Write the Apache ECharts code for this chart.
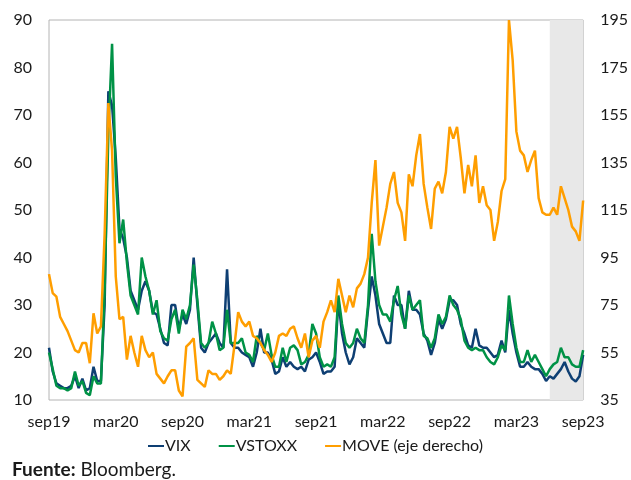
<!DOCTYPE html>
<html>
<head>
<meta charset="utf-8">
<script src="https://cdn.jsdelivr.net/npm/echarts@6/dist/echarts.min.js"></script>
<style>
  html, body { margin: 0; padding: 0; background: #fff; }
  #chart { width: 631px; height: 480px; }
</style>
</head>
<body>
<div id="chart"></div>
<script>
// Sampling dates: the 1st, 11th and 21st of each month, Sep 2019 - Sep 2023
const dates = [];
for (let y = 2019, m = 9; y < 2023 || (y === 2023 && m <= 9); m++) {
  if (m > 12) { m = 1; y++; }
  for (const d of [1, 11, 21]) {
    if (y === 2023 && m === 9 && d > 1) break;
    dates.push(y + '-' + String(m).padStart(2, '0') + '-' + String(d).padStart(2, '0'));
  }
}

// Axis tick labels (every six months)
const xTickLabels = ['sep19', 'mar20', 'sep20', 'mar21', 'sep21', 'mar22', 'sep22', 'mar23', 'sep23'];
const leftTicks = [10, 20, 30, 40, 50, 60, 70, 80, 90];
const rightTicks = [35, 55, 75, 95, 115, 135, 155, 175, 195];

// Shaded period
const shadedFrom = '2023-06-01';
const shadedTo = '2023-09-01';

// VIX
const vix = [
  21, 16, 13.5, 13, 12.5, 12.5, 13, 15, 12.5, 14.5, 12, 12.5, 17, 14, 14, 30, 75, 72, 61, 46,
  44, 40, 33, 31, 29, 33, 35, 33, 28.5, 28, 25, 22, 21.5, 30, 30, 25, 28, 26, 29, 40,
  30, 21, 20, 22, 23, 24, 22, 21, 37.5, 22, 21, 21, 20, 19.5, 19, 17, 20, 25, 20, 20,
  18.5, 15.5, 16, 19, 17, 18, 17, 16.5, 17, 16, 18.5, 19, 20, 18, 15.5, 16, 16, 17, 31, 24,
  20, 17.5, 19, 23, 22, 21, 29, 36, 32, 26, 24, 22, 22, 32, 30, 30, 25, 33, 29, 29,
  28, 24, 22.5, 19.5, 22, 27, 25, 27, 31, 31, 30, 26, 24, 21.5, 21, 25, 21.5, 21, 21, 20,
  19, 19.5, 22.5, 20, 29, 24, 20, 17, 17, 18, 17, 16.5, 16.5, 15.5, 14, 15, 14.5, 15.5, 16.5, 18,
  16, 14.5, 13.9, 15, 19.5
];

// VSTOXX
const vstoxx = [
  20, 16.5, 13, 12.5, 12.5, 12, 12.5, 16, 13, 14, 11.5, 11, 15, 13.5, 13.5, 33, 66, 85, 57, 43,
  48, 39, 32, 30, 28, 40, 36, 33, 28, 31, 24.5, 23, 22.5, 27, 29, 24, 29, 27, 30, 38.5,
  31, 22, 21, 22, 26.5, 24, 20.5, 21, 29, 22, 22, 22, 23, 20, 19.5, 18, 23.5, 22, 20.5, 24,
  19.5, 17, 17, 21, 18, 21, 21.5, 20.5, 17.5, 18, 19.5, 26, 24, 19, 17, 17.5, 17, 19, 32, 26,
  22, 21, 22, 25, 23, 22, 30, 45, 35, 30, 28, 28, 26.5, 31, 34, 28, 25, 32, 29, 30,
  31, 23.5, 23, 21, 23, 28, 26, 27.5, 32, 30, 29, 27, 22.5, 21, 20.5, 21, 20.5, 20.5, 19, 18,
  17.5, 19, 21.5, 20.5, 32, 26, 21, 18, 18, 20.5, 18, 19.5, 18, 16.5, 15, 16.5, 17.5, 18, 21, 19,
  19, 17.5, 17, 17, 20.5
];

// MOVE (right axis)
const move = [
  88, 80, 78.5, 70, 67, 64, 60, 56, 55, 59, 59, 50.5, 71.5, 63, 66, 105, 160, 140, 87, 69,
  70, 52, 62, 55, 49, 62, 56, 53, 55, 46, 44, 42, 45, 47.5, 47.5, 39, 36.5, 57.5, 59, 61,
  43.5, 42, 40.5, 47.5, 46, 46, 43.5, 45, 47.5, 46, 58, 72, 68, 66, 68, 62, 61, 59, 56, 54,
  51, 55, 62, 63, 62, 65, 66, 61, 57, 63, 53, 60, 62, 57, 68, 72, 77, 72, 86, 79,
  72, 79, 74, 82, 84, 88, 95, 118, 136, 100, 108, 116, 126, 131, 118, 114, 102, 130, 125, 138,
  147, 126, 116, 107, 124, 127, 122, 131, 150, 145, 150, 137, 122, 134, 125, 138, 118, 125, 117, 115,
  102, 110, 123, 128, 195, 178, 148, 140, 138, 131, 136, 140, 120, 114, 113, 113, 116, 113, 125, 120,
  115, 108, 106, 102, 119
];

const FONT = 'Lato, "Open Sans", sans-serif';
const TXT = '#1a1a1a';

const chart = echarts.init(document.getElementById('chart'), null, { renderer: 'canvas' });

function line(name, data, color, yIndex, extra) {
  return Object.assign({
    name: name,
    type: 'line',
    data: data,
    yAxisIndex: yIndex,
    symbol: 'none',
    smooth: false,
    lineStyle: { width: 2.5, color: color },
    itemStyle: { color: color },
    animation: false
  }, extra || {});
}

chart.setOption({
  animation: false,
  grid: {
    left: 49, right: 47, top: 20, bottom: 80,
    show: true, borderColor: '#b4b4b4', borderWidth: 1, backgroundColor: 'transparent'
  },
  legend: {
    bottom: 21,
    left: 'center',
    itemGap: 28,
    itemWidth: 16,
    itemHeight: 2,
    icon: 'rect',
    textStyle: { fontFamily: FONT, fontSize: 16, color: TXT, padding: [0, 0, 0, -4] },
    data: ['VIX', 'VSTOXX', 'MOVE (eje derecho)']
  },
  xAxis: {
    type: 'category',
    data: dates,
    boundaryGap: false,
    axisLine: { show: false },
    axisTick: { show: false },
    splitLine: { show: false },
    axisLabel: {
      interval: 17,
      margin: 14,
      showMinLabel: true,
      showMaxLabel: true,
      fontFamily: FONT,
      fontSize: 16,
      color: TXT,
      formatter: function (value, index) { return xTickLabels[Math.round(index / 18)]; }
    }
  },
  yAxis: [
    {
      type: 'value', min: 10, max: 90,
      axisLine: { show: false }, axisTick: { show: false }, splitLine: { show: false },
      axisLabel: { customValues: leftTicks, margin: 17, fontFamily: FONT, fontSize: 16, color: TXT }
    },
    {
      type: 'value', min: 35, max: 195, position: 'right',
      axisLine: { show: false }, axisTick: { show: false }, splitLine: { show: false },
      axisLabel: { customValues: rightTicks, margin: 17, fontFamily: FONT, fontSize: 16, color: TXT }
    }
  ],
  series: [
    line('VIX', vix, '#0e3f73', 0, {
      markArea: {
        silent: true,
        itemStyle: { color: '#e8e8e8' },
        data: [[{ xAxis: shadedFrom }, { xAxis: shadedTo }]]
      },
      z: 2
    }),
    line('VSTOXX', vstoxx, '#009246', 0, { z: 3 }),
    line('MOVE (eje derecho)', move, '#ff9e00', 1, { z: 4 })
  ],
  graphic: [{
    type: 'text',
    left: 12,
    top: 460,
    style: {
      text: '{b|Fuente:} Bloomberg.',
      rich: {
        b: { fontWeight: 'bold', fontFamily: FONT, fontSize: 19, fill: TXT }
      },
      font: '19px ' + FONT,
      fill: TXT
    }
  }]
});
</script>
</body>
</html>
